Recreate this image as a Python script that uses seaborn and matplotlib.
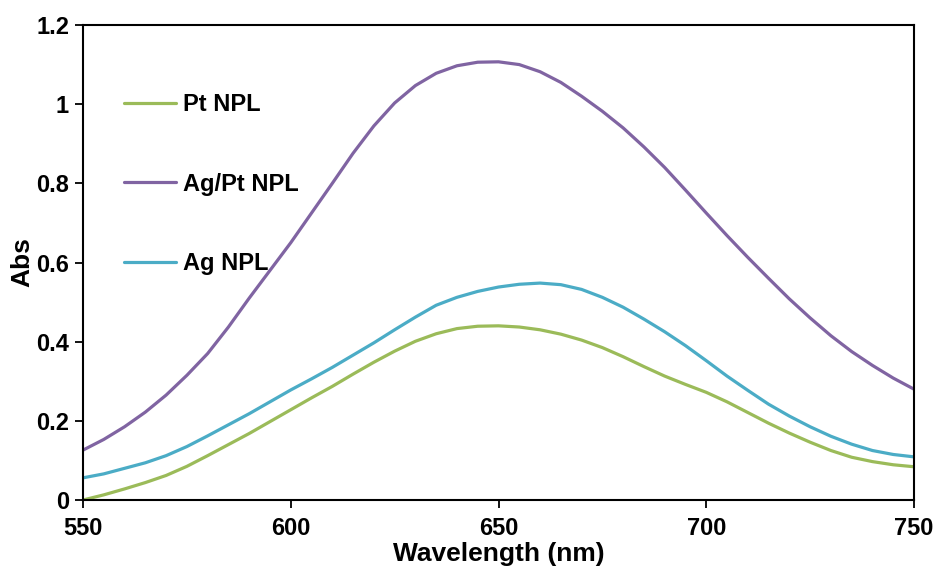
import numpy as np
import pandas as pd
import matplotlib
matplotlib.use("Agg")
import matplotlib.pyplot as plt
import seaborn as sns

wavelength = [550, 555, 560, 565, 570, 575, 580, 585, 590, 595, 600,
              605, 610, 615, 620, 625, 630, 635, 640, 645, 650,
              655, 660, 665, 670, 675, 680, 685, 690, 695, 700,
              705, 710, 715, 720, 725, 730, 735, 740, 745, 750]
pt_npl = [0.000, 0.013, 0.028, 0.044, 0.062, 0.085, 0.112, 0.140, 0.168, 0.198, 0.228,
          0.258, 0.287, 0.318, 0.348, 0.376, 0.401, 0.420, 0.433, 0.439, 0.440,
          0.437, 0.430, 0.419, 0.404, 0.385, 0.362, 0.337, 0.313, 0.292, 0.272,
          0.248, 0.221, 0.194, 0.169, 0.146, 0.125, 0.108, 0.097, 0.089, 0.084]
agpt_npl = [0.126, 0.153, 0.185, 0.222, 0.265, 0.315, 0.370, 0.437, 0.510, 0.580, 0.650,
            0.725, 0.800, 0.876, 0.945, 1.003, 1.047, 1.078, 1.097, 1.106, 1.107,
            1.100, 1.082, 1.055, 1.020, 0.982, 0.940, 0.892, 0.840, 0.783, 0.725,
            0.668, 0.613, 0.560, 0.508, 0.460, 0.415, 0.375, 0.340, 0.308, 0.280]
ag_npl = [0.056, 0.066, 0.080, 0.094, 0.112, 0.135, 0.162, 0.190, 0.218, 0.248, 0.278,
          0.306, 0.335, 0.366, 0.397, 0.430, 0.462, 0.492, 0.512, 0.527, 0.538,
          0.545, 0.548, 0.544, 0.532, 0.512, 0.487, 0.457, 0.425, 0.390, 0.352,
          0.313, 0.277, 0.242, 0.212, 0.185, 0.161, 0.141, 0.125, 0.115, 0.109]
series_names = ["Pt NPL", "Ag/Pt NPL", "Ag NPL"]
colors = ["#9BBB59", "#8064A2", "#4BACC6"]
x_ticks = [550, 600, 650, 700, 750]
y_ticks = [0, 0.2, 0.4, 0.6, 0.8, 1.0, 1.2]
y_tick_labels = ["0", "0.2", "0.4", "0.6", "0.8", "1", "1.2"]

df = pd.concat([
    pd.DataFrame({"Wavelength": wavelength, "Abs": vals, "Sample": name})
    for name, vals in zip(series_names, [pt_npl, agpt_npl, ag_npl])
])

sns.set_theme(style="ticks")
plt.rcParams["font.family"] = ["Liberation Sans", "DejaVu Sans"]
plt.rcParams["font.weight"] = "bold"
plt.rcParams["text.color"] = "black"
plt.rcParams["axes.labelcolor"] = "black"

fig = plt.figure(figsize=(9.4, 5.69), dpi=100)
ax = fig.add_axes([83/940, 1-500/569, (914-83)/940, (500-25)/569])

sns.lineplot(data=df, x="Wavelength", y="Abs", hue="Sample", hue_order=series_names,
             palette=colors, linewidth=2.3, ax=ax, sort=True)

ax.set_xlim(550, 750)
ax.set_ylim(0, 1.2)
ax.set_xticks(x_ticks)
ax.set_xticklabels([str(t) for t in x_ticks])
ax.set_yticks(y_ticks)
ax.set_yticklabels(y_tick_labels)
ax.tick_params(axis="both", direction="out", length=6, width=1.3, labelsize=17,
               colors="black", pad=4)
ax.tick_params(axis="x", pad=6)
for lab in ax.get_xticklabels() + ax.get_yticklabels():
    lab.set_fontweight("bold")
for sp in ax.spines.values():
    sp.set_color("black")
    sp.set_linewidth(1.5)

ax.set_xlabel("Wavelength (nm)", fontsize=19, fontweight="bold", color="black")
ax.set_ylabel("Abs", fontsize=19, fontweight="bold", color="black")
ax.xaxis.set_label_coords(0.5, -0.089)
ax.yaxis.set_label_coords(-0.058, 0.5)

leg = ax.legend(loc="upper left", bbox_to_anchor=(0.049, 0.856), frameon=False,
                fontsize=17, handlelength=2.2, handletextpad=0.3,
                labelspacing=2.38, borderpad=0, borderaxespad=0)
for t in leg.get_texts():
    t.set_fontweight("bold")
    t.set_color("black")
for l in leg.get_lines():
    l.set_linewidth(2.3)

fig.savefig("out.png", dpi=100)
